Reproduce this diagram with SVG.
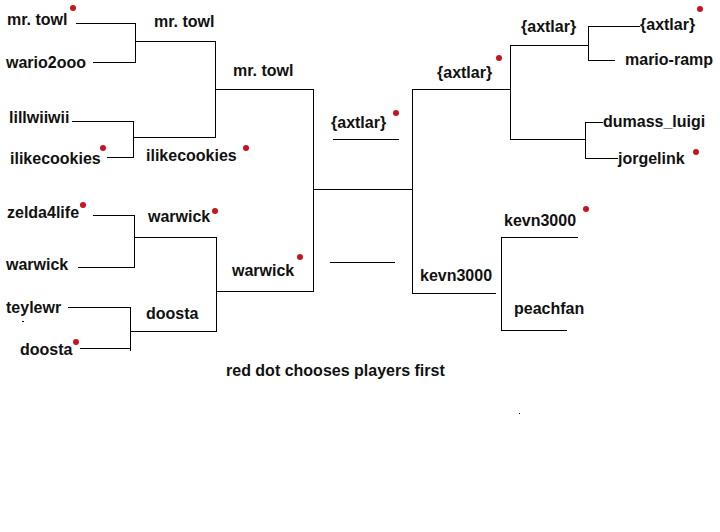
<svg xmlns="http://www.w3.org/2000/svg" width="720" height="532" viewBox="0 0 720 532">
<style>
.t{font-family:"Liberation Sans",Arial,sans-serif;font-weight:bold;font-size:16px;fill:#111}
.d{fill:#c8141e}
.c line{stroke:#000;stroke-width:1;shape-rendering:crispEdges}
</style>
<rect width="720" height="532" fill="#fff"/>
<g id="connectors" class="c">
<line x1="76" y1="23.5" x2="135" y2="23.5"/>
<line x1="93" y1="62.5" x2="135" y2="62.5"/>
<line x1="135.5" y1="23" x2="135.5" y2="63"/>
<line x1="135" y1="41.5" x2="216" y2="41.5"/>
<line x1="72" y1="121.5" x2="134" y2="121.5"/>
<line x1="107" y1="157.5" x2="134" y2="157.5"/>
<line x1="133.5" y1="121" x2="133.5" y2="158"/>
<line x1="133" y1="137.5" x2="216" y2="137.5"/>
<line x1="215.5" y1="41" x2="215.5" y2="138"/>
<line x1="215" y1="89.5" x2="314" y2="89.5"/>
<line x1="93" y1="215.5" x2="134" y2="215.5"/>
<line x1="78" y1="267.5" x2="134" y2="267.5"/>
<line x1="134.5" y1="215" x2="134.5" y2="268"/>
<line x1="134" y1="237.5" x2="217" y2="237.5"/>
<line x1="68" y1="307.5" x2="130" y2="307.5"/>
<line x1="80" y1="348.5" x2="130" y2="348.5"/>
<line x1="130.5" y1="307" x2="130.5" y2="351"/>
<line x1="130" y1="331.5" x2="217" y2="331.5"/>
<line x1="216.5" y1="237" x2="216.5" y2="332"/>
<line x1="216" y1="291.5" x2="314" y2="291.5"/>
<line x1="313.5" y1="89" x2="313.5" y2="292"/>
<line x1="313" y1="189.5" x2="413" y2="189.5"/>
<line x1="333" y1="139.5" x2="399" y2="139.5"/>
<line x1="330" y1="262.5" x2="395" y2="262.5"/>
<line x1="412.5" y1="89" x2="412.5" y2="294"/>
<line x1="412" y1="89.5" x2="511" y2="89.5"/>
<line x1="412" y1="293.5" x2="496" y2="293.5"/>
<line x1="510.5" y1="45" x2="510.5" y2="140"/>
<line x1="510" y1="45.5" x2="589" y2="45.5"/>
<line x1="510" y1="139.5" x2="586" y2="139.5"/>
<line x1="588.5" y1="26" x2="588.5" y2="61"/>
<line x1="588" y1="26.5" x2="640" y2="26.5"/>
<line x1="588" y1="60.5" x2="615" y2="60.5"/>
<line x1="585.5" y1="122" x2="585.5" y2="159"/>
<line x1="585" y1="122.5" x2="603" y2="122.5"/>
<line x1="585" y1="158.5" x2="618" y2="158.5"/>
<line x1="501.5" y1="237" x2="501.5" y2="331"/>
<line x1="501" y1="237.5" x2="578" y2="237.5"/>
<line x1="501" y1="330.5" x2="567" y2="330.5"/>
<line x1="22" y1="321.5" x2="24" y2="321.5"/>
<line x1="519" y1="413.5" x2="520" y2="413.5"/>
</g>
<g id="n-mrtowl-r1"><text class="t" x="7" y="25">mr. towl</text><circle class="d" cx="73" cy="8" r="3"/></g>
<g id="n-wario2ooo"><text class="t" x="6" y="68">wario2ooo</text></g>
<g id="n-lillwiiwii"><text class="t" x="9" y="123">lillwiiwii</text></g>
<g id="n-ilikecookies-r1"><text class="t" x="10" y="164">ilikecookies</text><circle class="d" cx="103" cy="148" r="3"/></g>
<g id="n-zelda4life"><text class="t" x="7" y="218">zelda4life</text><circle class="d" cx="83" cy="205" r="3"/></g>
<g id="n-warwick-r1"><text class="t" x="6" y="270">warwick</text></g>
<g id="n-teylewr"><text class="t" x="6" y="313">teylewr</text></g>
<g id="n-doosta-r1"><text class="t" x="20" y="355">doosta</text><circle class="d" cx="76" cy="342" r="3"/></g>
<g id="n-mrtowl-r2"><text class="t" x="154" y="27">mr. towl</text></g>
<g id="n-ilikecookies-r2"><text class="t" x="146" y="161">ilikecookies</text><circle class="d" cx="246" cy="148" r="3"/></g>
<g id="n-warwick-r2"><text class="t" x="148" y="222">warwick</text><circle class="d" cx="215" cy="211" r="3"/></g>
<g id="n-doosta-r2"><text class="t" x="146" y="319">doosta</text></g>
<g id="n-mrtowl-r3"><text class="t" x="233" y="76">mr. towl</text></g>
<g id="n-warwick-r3"><text class="t" x="232" y="276">warwick</text><circle class="d" cx="300" cy="257" r="3"/></g>
<g id="n-axtlar-final"><text class="t" x="331" y="128">{axtlar}</text><circle class="d" cx="396" cy="113" r="3"/></g>
<g id="n-axtlar-r3"><text class="t" x="437" y="78">{axtlar}</text><circle class="d" cx="499" cy="58" r="3"/></g>
<g id="n-kevn3000-r3"><text class="t" x="420" y="281">kevn3000</text></g>
<g id="n-axtlar-r2"><text class="t" x="521" y="32">{axtlar}</text></g>
<g id="n-kevn3000-r2"><text class="t" x="504" y="226">kevn3000</text><circle class="d" cx="586" cy="209" r="3"/></g>
<g id="n-peachfan"><text class="t" x="514" y="314">peachfan</text></g>
<g id="n-axtlar-r1"><text class="t" x="640" y="30">{axtlar}</text><circle class="d" cx="700" cy="9" r="3"/></g>
<g id="n-marioramp"><text class="t" x="625" y="65">mario-ramp</text></g>
<g id="n-dumassluigi"><text class="t" x="603" y="127">dumass_luigi</text></g>
<g id="n-jorgelink"><text class="t" x="618" y="164">jorgelink</text><circle class="d" cx="696" cy="152" r="3"/></g>
<g id="note"><text class="t" x="226" y="376">red dot chooses players first</text></g>
</svg>
